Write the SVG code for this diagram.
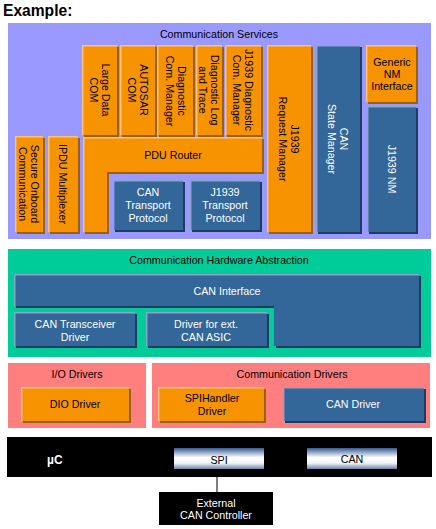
<svg xmlns="http://www.w3.org/2000/svg" width="436" height="529" viewBox="0 0 436 529">
<style>
text{font-family:"Liberation Sans",Arial,sans-serif;font-size:10.7px;fill:#000}
.w{fill:#fff}
.c{text-anchor:middle}
.o{fill:#F89300}
.os{fill:#9A6010}
.oh{fill:none;stroke:#FAC27C;stroke-width:1.5}
.b{fill:#336699}
.bs{fill:#1E3B62}
.bh{fill:none;stroke:#8CA5CC;stroke-width:1.5}
</style>
<defs>
<linearGradient id="chip" x1="0" y1="0" x2="0" y2="1">
<stop offset="0" stop-color="#365B91"/>
<stop offset="0.45" stop-color="#FFFFFF"/>
<stop offset="0.72" stop-color="#F2F3F7"/>
<stop offset="1" stop-color="#6C84AD"/>
</linearGradient>
</defs>
<rect width="436" height="529" fill="#fff"/>
<text x="3" y="16" style="font-size:15.6px;font-weight:bold">Example:</text>

<g id="communication-services">
<rect x="8" y="23" width="423" height="216" fill="#9999FF"/>
<text class="c" x="219" y="38">Communication Services</text>
</g>
<g id="large-data-com">
<rect class="os" x="84" y="47" width="35" height="90"/><rect class="o" x="82" y="45" width="35" height="90"/><path class="oh" d="M82.7,135V45.7H117"/>
<text class="c" transform="translate(100,90) rotate(90)"><tspan x="0" y="-1.5">Large Data</tspan><tspan x="0" y="10.5">COM</tspan></text>
</g>
<g id="autosar-com">
<rect class="os" x="122" y="47" width="35" height="90"/><rect class="o" x="120" y="45" width="35" height="90"/><path class="oh" d="M120.7,135V45.7H155"/>
<text class="c" transform="translate(138,90) rotate(90)"><tspan x="0" y="-1.5">AUTOSAR</tspan><tspan x="0" y="10.5">COM</tspan></text>
</g>
<g id="diagnostic-com-manager">
<rect class="os" x="159" y="47" width="36" height="90"/><rect class="o" x="157" y="45" width="36" height="90"/><path class="oh" d="M157.7,135V45.7H193"/>
<text class="c" transform="translate(176,91) rotate(90)"><tspan x="0" y="-1.5">Diagnostic</tspan><tspan x="0" y="10.5">Com. Manager</tspan></text>
</g>
<g id="diagnostic-log-and-trace">
<rect class="os" x="198" y="47" width="26" height="90"/><rect class="o" x="196" y="45" width="26" height="90"/><path class="oh" d="M196.7,135V45.7H222"/>
<text class="c" transform="translate(209.5,90) rotate(90)"><tspan x="0" y="-1.5">Diagnostic Log</tspan><tspan x="0" y="10.5">and Trace</tspan></text>
</g>
<g id="j1939-diagnostic-com-manager">
<rect class="os" x="227" y="47" width="36" height="90"/><rect class="o" x="225" y="45" width="36" height="90"/><path class="oh" d="M225.7,135V45.7H261"/>
<text class="c" transform="translate(243.5,90) rotate(90)"><tspan x="0" y="-1.5">J1939 Diagnostic</tspan><tspan x="0" y="10.5">Com. Manager</tspan></text>
</g>
<g id="j1939-request-manager">
<rect class="os" x="269" y="47" width="44" height="187"/><rect class="o" x="267" y="45" width="44" height="187"/><path class="oh" d="M267.7,232V45.7H311"/>
<text class="c" transform="translate(289,139) rotate(90)"><tspan x="0" y="-1.5">J1939</tspan><tspan x="0" y="10.5">Request Manager</tspan></text>
</g>
<g id="can-state-manager">
<rect class="bs" x="318" y="47" width="44" height="187"/><rect class="b" x="316" y="45" width="44" height="187"/><path class="bh" d="M316.7,232V45.7H360"/>
<text class="c w" transform="translate(338,139) rotate(90)"><tspan x="0" y="-1.5">CAN</tspan><tspan x="0" y="10.5">State Manager</tspan></text>
</g>
<g id="generic-nm-interface">
<rect class="os" x="368" y="47" width="50" height="57"/><rect class="o" x="366" y="45" width="50" height="57"/><path class="oh" d="M366.7,102V45.7H416"/>
<text class="c" x="392"><tspan x="392" y="66">Generic</tspan><tspan x="392" y="78">NM</tspan><tspan x="392" y="90">Interface</tspan></text>
</g>
<g id="j1939-nm">
<rect class="bs" x="369" y="108" width="49" height="126"/><rect class="b" x="367" y="106" width="49" height="126"/><path class="bh" d="M367.7,232V106.7H416"/>
<text class="c w" transform="translate(392,169) rotate(90)" y="4">J1939 NM</text>
</g>
<g id="secure-onboard-communication">
<rect class="os" x="17" y="138" width="28" height="96"/><rect class="o" x="15" y="136" width="28" height="96"/><path class="oh" d="M15.7,232V136.7H43"/>
<text class="c" transform="translate(29,184) rotate(90)"><tspan x="0" y="-1.5">Secure Onboard</tspan><tspan x="0" y="10.5">Communication</tspan></text>
</g>
<g id="ipdu-multiplexer">
<rect class="os" x="50" y="138" width="30" height="96"/><rect class="o" x="48" y="136" width="30" height="96"/><path class="oh" d="M48.7,232V136.7H78"/>
<text class="c" transform="translate(63,184) rotate(90)" y="4">IPDU Multiplexer</text>
</g>
<g id="pdu-router">
<path class="os" d="M85,139H264V174H109V234H85Z"/><path class="o" d="M83,137H262V172H107V232H83Z"/><path class="oh" d="M83.7,232V137.7H262"/>
<text class="c" x="173" y="159">PDU Router</text>
</g>
<g id="can-transport-protocol">
<rect class="bs" x="115" y="182" width="70" height="50"/><rect class="b" x="113" y="180" width="70" height="50"/><path class="bh" d="M113.7,230V180.7H183"/>
<text class="c w"><tspan x="148" y="196">CAN</tspan><tspan x="148" y="209">Transport</tspan><tspan x="148" y="222">Protocol</tspan></text>
</g>
<g id="j1939-transport-protocol">
<rect class="bs" x="192" y="182" width="70" height="50"/><rect class="b" x="190" y="180" width="70" height="50"/><path class="bh" d="M190.7,230V180.7H260"/>
<text class="c w"><tspan x="225" y="196">J1939</tspan><tspan x="225" y="209">Transport</tspan><tspan x="225" y="222">Protocol</tspan></text>
</g>

<g id="communication-hardware-abstraction">
<rect x="8" y="249" width="423" height="108" fill="#00CC99"/>
<text class="c" x="219" y="264">Communication Hardware Abstraction</text>
</g>
<g id="can-interface">
<path class="bs" d="M16,276H421V348H276V308H16Z"/><path class="b" d="M14,274H419V346H274V306H14Z"/><path class="bh" d="M14.7,306V274.7H419"/>
<text class="c w" x="227" y="295">CAN Interface</text>
</g>
<g id="can-transceiver-driver">
<rect class="bs" x="16" y="314" width="121" height="34"/><rect class="b" x="14" y="312" width="121" height="34"/><path class="bh" d="M14.7,346V312.7H135"/>
<text class="c w"><tspan x="75" y="328">CAN Transceiver</tspan><tspan x="75" y="341">Driver</tspan></text>
</g>
<g id="driver-for-ext-can-asic">
<rect class="bs" x="148" y="314" width="121" height="34"/><rect class="b" x="146" y="312" width="121" height="34"/><path class="bh" d="M146.7,346V312.7H267"/>
<text class="c w"><tspan x="206" y="328">Driver for ext.</tspan><tspan x="206" y="341">CAN ASIC</tspan></text>
</g>

<g id="io-drivers">
<rect x="8" y="363" width="138" height="65" fill="#FF7F7F"/>
<text class="c" x="77" y="378">I/O Drivers</text>
</g>
<g id="dio-driver">
<rect class="os" x="23" y="389" width="108" height="34"/><rect class="o" x="21" y="387" width="108" height="34"/><path class="oh" d="M21.7,421V387.7H129"/>
<text class="c" x="75" y="408">DIO Driver</text>
</g>
<g id="communication-drivers">
<rect x="152" y="363" width="278" height="65" fill="#FF7F7F"/>
<text class="c" x="292" y="378">Communication Drivers</text>
</g>
<g id="spihandler-driver">
<rect class="os" x="160" y="389" width="106" height="34"/><rect class="o" x="158" y="387" width="106" height="34"/><path class="oh" d="M158.7,421V387.7H264"/>
<text class="c"><tspan x="212" y="402">SPIHandler</tspan><tspan x="212" y="415">Driver</tspan></text>
</g>
<g id="can-driver">
<rect class="bs" x="285" y="389" width="141" height="34"/><rect class="b" x="283" y="387" width="141" height="34"/><path class="bh" d="M283.7,421V387.7H424"/>
<text class="c w" x="353" y="408">CAN Driver</text>
</g>

<g id="microcontroller">
<rect x="7" y="437" width="425" height="40" fill="#000"/>
<text class="w" x="47" y="464" style="font-weight:bold;font-size:12px">µC</text>
</g>
<g id="spi">
<rect x="174" y="448" width="90" height="21" fill="url(#chip)"/>
<text class="c" x="219" y="464">SPI</text>
</g>
<g id="can">
<rect x="307" y="448" width="90" height="21" fill="url(#chip)"/>
<text class="c" x="352" y="463">CAN</text>
</g>
<g id="connectors">
<line x1="217" y1="469" x2="217" y2="492" stroke="#000" stroke-width="1"/>
</g>
<g id="external-can-controller">
<rect x="159" y="492" width="114" height="33" fill="#000"/>
<text class="c w"><tspan x="216" y="507">External</tspan><tspan x="216" y="519">CAN Controller</tspan></text>
</g>
</svg>
